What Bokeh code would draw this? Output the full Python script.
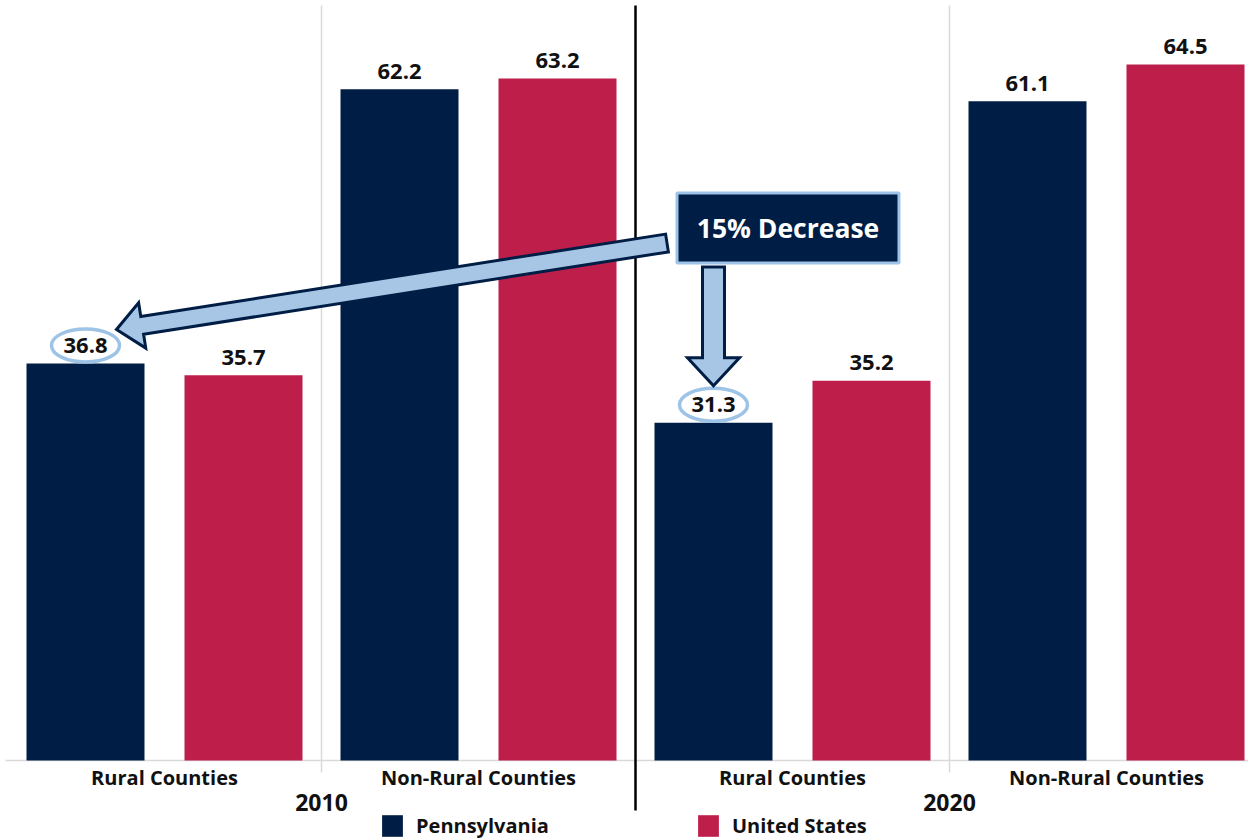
import numpy as np
from bokeh.plotting import figure
from bokeh.models import Range1d, Legend, LegendItem
from bokeh.core.properties import value
from bokeh.embed import file_html
from bokeh.resources import INLINE

# ---------------- data ----------------
categories = ["Rural Counties", "Non-Rural Counties", "Rural Counties", "Non-Rural Counties"]
years = ["2010", "2020"]
pennsylvania = [36.8, 62.2, 31.3, 61.1]
united_states = [35.7, 63.2, 35.2, 64.5]
highlight_idx = [0, 2]          # Pennsylvania rural 2010 vs 2020
annotation_text = "15% Decrease"

# ---------------- styling / layout ----------------
W, H = 1248, 839
NAVY = "#001E45"
CRIMSON = "#BE1F4A"
LIGHT_BLUE = "#A7C6E5"
RING_BLUE = "#9DC3E6"
GRID = "#D9D9D9"
FONT = value("Open Sans")

PX_X = 314.0      # px per category
PX_Y = 10.79      # px per unit
X0_PX = 164.0     # pixel of first category centre
Y0_PX = 760.0     # pixel of zero baseline
LABEL_GAP = 18.0  # px between bar top and label centre

def dx(px):   # screen px -> data x
    return (px - X0_PX) / PX_X

def dy(py):   # screen py -> data y
    return (Y0_PX - py) / PX_Y

def to_px(x, y):
    return X0_PX + x * PX_X, Y0_PX - y * PX_Y

p = figure(width=W, height=H, output_backend="svg", toolbar_location=None,
           x_range=Range1d(dx(0), dx(W)), y_range=Range1d(dy(H), dy(0)),
           x_axis_type=None, y_axis_type=None, min_border=0,
           outline_line_color=None)
p.xgrid.visible = False
p.ygrid.visible = False
p.background_fill_color = "white"

xc = np.arange(len(categories), dtype=float)
off = 79.0 / PX_X
bw = 118.0 / PX_X
x_pa = xc - off
x_us = xc + off

# separators between categories
seps = np.arange(len(categories) - 1) + 0.5
light_seps = [s for i, s in enumerate(seps) if i != 1]
p.segment(x0=light_seps, x1=light_seps, y0=[dy(5)] * len(light_seps), y1=[dy(772)] * len(light_seps),
          line_color=GRID, line_width=1.5)
# baseline
p.segment(x0=[dx(5)], x1=[dx(W)], y0=[0], y1=[0], line_color=GRID, line_width=1.5)

r_pa = p.vbar(x=x_pa, top=pennsylvania, bottom=0, width=bw, fill_color=NAVY, line_color=None)
r_us = p.vbar(x=x_us, top=united_states, bottom=0, width=bw, fill_color=CRIMSON, line_color=None)

# year divider (black)
mid = [seps[1]]
p.segment(x0=mid, x1=mid, y0=[dy(5)], y1=[dy(810)], line_color="black", line_width=2.5)

# value labels
for xs, vals in ((x_pa, pennsylvania), (x_us, united_states)):
    p.text(x=xs, y=[v + LABEL_GAP / PX_Y for v in vals], text=[f"{v:.1f}" for v in vals],
           text_align="center", text_baseline="middle", text_font=FONT, text_font_style="bold",
           text_font_size="22px", text_color="#111111")

# rings around highlighted labels
ring_x = [x_pa[i] for i in highlight_idx]
ring_y = [pennsylvania[i] + LABEL_GAP / PX_Y for i in highlight_idx]
p.ellipse(x=ring_x, y=ring_y, width=68, height=33, width_units="screen", height_units="screen",
          fill_color=None, line_color=RING_BLUE, line_width=3.5)

# category labels
p.text(x=xc, y=[dy(777)] * len(categories), text=categories, text_align="center",
       text_baseline="middle", text_font=FONT, text_font_style="bold",
       text_font_size="20px", text_color="#111111")
year_x = [0.5, 2.5]
p.text(x=year_x, y=[dy(802)] * 2, text=years, text_align="center", text_baseline="middle",
       text_font=FONT, text_font_style="bold", text_font_size="23px", text_color="#111111")

# ---------------- annotation ----------------
box_cx, box_cy = 787.5, 227.5
box_w, box_h = 222, 70

def block_arrow(tip, tail, w, L, Hh):
    T = np.array(tip); S = np.array(tail)
    u = (S - T) / np.linalg.norm(S - T)
    n = np.array([-u[1], u[0]])
    B = T + L * u
    pts = [T, B + Hh * n, B + w * n, S + w * n, S - w * n, B - w * n, B - Hh * n]
    xs = [dx(q[0]) for q in pts]
    ys = [dy(q[1]) for q in pts]
    return xs, ys

rx0, ry0 = to_px(ring_x[0], ring_y[0])
rx1, ry1 = to_px(ring_x[1], ring_y[1])
tip1 = (rx0 + 31, ry0 - 16)
tail1 = (box_cx - box_w / 2 - 10, box_cy + 15)
tip2 = (rx1, ry1 - 19)
tail2 = (rx1, box_cy + box_h / 2 + 4)

ax, ay = block_arrow(tip1, tail1, 9.0, 26, 23)
p.patch(ax, ay, fill_color=LIGHT_BLUE, line_color=NAVY, line_width=3, line_join="miter")
ax, ay = block_arrow(tip2, tail2, 11.0, 28, 26)
p.patch(ax, ay, fill_color=LIGHT_BLUE, line_color=NAVY, line_width=3, line_join="miter")

p.rect(x=[dx(box_cx)], y=[dy(box_cy)], width=box_w, height=box_h, width_units="screen",
       height_units="screen", fill_color=NAVY, line_color=RING_BLUE, line_width=3)
p.text(x=[dx(box_cx)], y=[dy(box_cy)], text=[annotation_text], text_align="center",
       text_baseline="middle", text_font=FONT, text_font_style="bold", text_font_size="26.5px",
       text_color="white")

# ---------------- legend ----------------
legend = Legend(items=[LegendItem(label="Pennsylvania", renderers=[r_pa]),
                       LegendItem(label="United States", renderers=[r_us])],
                location=(379, 0), orientation="horizontal",
                glyph_width=26, glyph_height=27, label_standoff=11, spacing=146,
                padding=0, margin=0, border_line_color=None, background_fill_alpha=0,
                label_text_font="Open Sans", label_text_font_style="bold",
                label_text_font_size="20px", label_text_color="#111111",
                label_height=27)
p.add_layout(legend, "center")

open("out.html", "w").write(file_html(p, INLINE))
